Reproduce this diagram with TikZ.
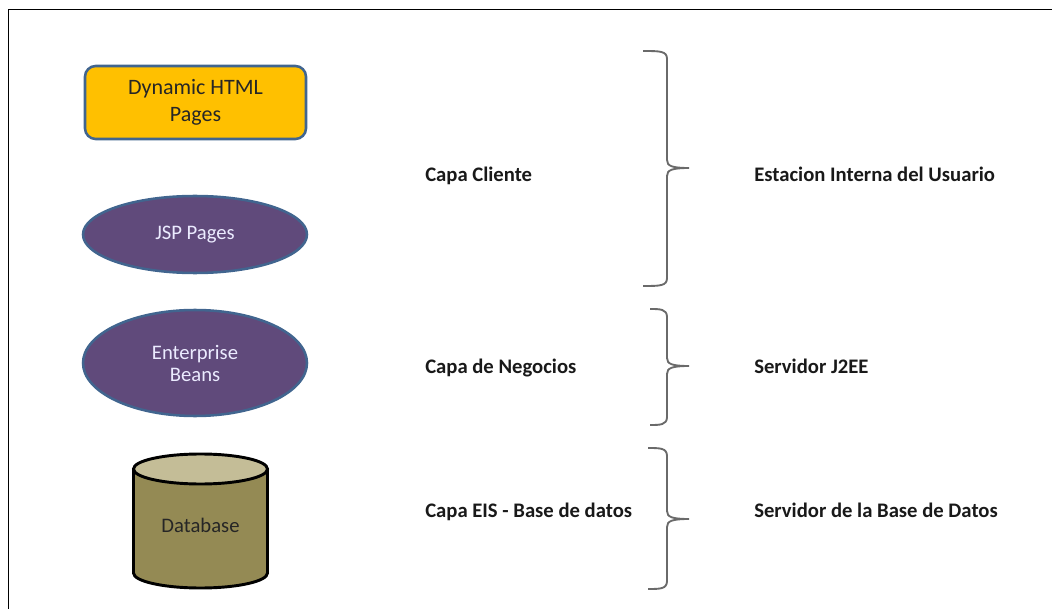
\documentclass[tikz,border=0pt]{standalone}
\usepackage{fontspec}
\setmainfont{Carlito}
\usepackage{xcolor}
\usetikzlibrary{shapes.geometric}
\definecolor{htmlfill}{HTML}{FFC000}
\definecolor{shapeline}{HTML}{41658F}
\definecolor{beanfill}{HTML}{604A7B}
\definecolor{dbbody}{HTML}{948A54}
\definecolor{dbtop}{HTML}{C4BD97}
\definecolor{bracegray}{HTML}{6A6A6A}
\tikzset{
  tier/.style={draw=shapeline, line width=1.9pt, align=center, font=\fontsize{15.5}{16.5}\selectfont},
  layer/.style={anchor=west, inner sep=0pt, font=\fontsize{15.5}{18}\selectfont\bfseries, text=black!90},
}
\begin{document}
\begin{tikzpicture}[x=0.75pt,y=-0.75pt]
\useasboundingbox (0,0) rectangle (1052,609);
\draw[line width=1.4pt] (8.5,609) -- (8.5,9.5) -- (1052,9.5);

	% left column
\node[tier, rectangle, rounded corners=8pt, fill=htmlfill, text=black!85, font=\fontsize{16.5}{20}\selectfont, minimum width=165.75pt, minimum height=54.75pt] (html) at (195.5,102.5) {Dynamic HTML\\Pages};
\node[tier, ellipse, fill=beanfill, text=white!92!blue, minimum width=168pt, minimum height=57.75pt] (jsp) at (195,234.5) {JSP Pages};
\node[tier, ellipse, fill=beanfill, text=white!92!blue, minimum width=168pt, minimum height=79.5pt] (beans) at (195,363) {Enterprise\\Beans};
\fill[dbbody] (133.5,469) -- (133.5,573) arc[x radius=67, y radius=15, start angle=180, end angle=0] -- (267.5,469) -- cycle;
\filldraw[dbtop] (200.5,469) ellipse[x radius=67, y radius=15];
\draw[line width=2.2pt] (133.5,469) -- (133.5,573) arc[x radius=67, y radius=15, start angle=180, end angle=0] -- (267.5,469);
\draw[line width=2.2pt] (200.5,469) ellipse[x radius=67, y radius=15];
\node[font=\fontsize{15.5}{19}\selectfont, text=black!85] (db) at (200.5,525) {Database};

	% layers and servers
\node[layer] (cliente) at (425,176) {Capa Cliente};
\node[layer] (negocios) at (425,368) {Capa de Negocios};
\node[layer] (eis) at (425,512) {Capa EIS - Base de datos};
\node[layer] (estacion) at (754,174) {Estacion Interna del Usuario};
\node[layer] (servidor) at (754,366) {Servidor J2EE};
\node[layer] (basedatos) at (754,510) {Servidor de la Base de Datos};

	% braces
\foreach \top/\mid/\bot/\arm in {51/168/286/643, 309/366/425/650, 448/519/589/648} {
	\draw[bracegray, line width=1.4pt] (\arm,\top) .. controls (660,\top) and (667,\top) .. (667,\top+8) -- (667,\mid-8) .. controls (667,\mid-2) and (672,\mid) .. (689,\mid) .. controls (672,\mid) and (667,\mid+2) .. (667,\mid+8) -- (667,\bot-8) .. controls (667,\bot) and (660,\bot) .. (\arm,\bot);
}
\end{tikzpicture}
\end{document}
